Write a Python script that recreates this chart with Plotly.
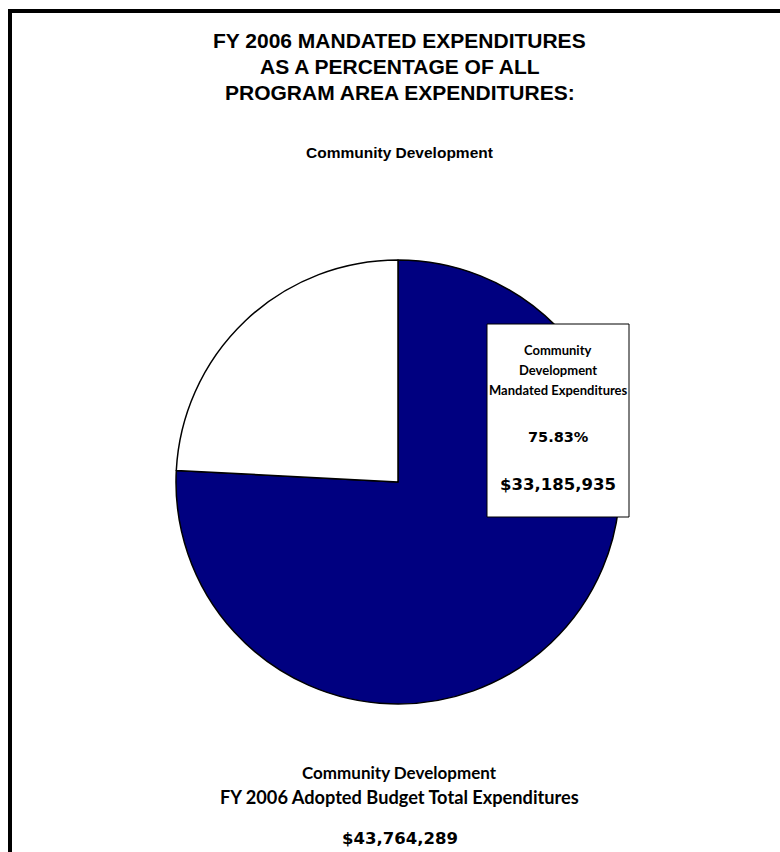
import plotly.graph_objects as go

# Community Development, FY 2006 adopted budget
slice_labels = ["Mandated Expenditures", "Other Expenditures"]
slice_values = [33185935, 43764289 - 33185935]
slice_colors = ["#000080", "#FFFFFF"]

title_lines = ["FY 2006 MANDATED EXPENDITURES", "AS A PERCENTAGE OF ALL", "PROGRAM AREA EXPENDITURES:"]
subtitle = "Community Development"
box_lines = ["Community", "Development", "Mandated Expenditures"]
footer_lines = ["Community Development", "FY 2006 Adopted Budget Total Expenditures"]

W, H = 780, 852
total = sum(slice_values)
pct = slice_values[0] / total * 100


def px(x):
    return x / W


def py(y):
    return 1 - y / H


fig = go.Figure()

# pie: mandated slice starts at 12 o'clock and runs clockwise
fig.add_trace(go.Pie(
    labels=slice_labels,
    values=slice_values,
    sort=False,
    direction="clockwise",
    rotation=0,
    marker=dict(colors=slice_colors, line=dict(color="#000000", width=1.5)),
    textinfo="none",
    hoverinfo="label+value+percent",
    showlegend=False,
    domain=dict(x=[px(176), px(620)], y=[py(704), py(260)]),
))

heading = "Liberation Sans, Arial, sans-serif"
body = "Lato, Noto Sans, sans-serif"
digits = "DejaVu Sans, sans-serif"


def note(text, x, y, family, size):
    return dict(text=f"<b>{text}</b>", x=px(x), y=py(y), xref="paper", yref="paper",
                xanchor="center", yanchor="middle", showarrow=False,
                font=dict(family=family, size=size, color="#000000"))


annotations = []
for i, line in enumerate(title_lines):
    annotations.append(note(line, 400, 41 + 26 * i, heading, 21))
annotations.append(note(subtitle, 400, 152, heading, 15.5))

# label for the mandated slice
for i, line in enumerate(box_lines):
    annotations.append(note(line, 558, 350 + 20 * i, body, 13))
annotations.append(note(f"{pct:.2f}%", 558, 437, digits, 14.5))
annotations.append(note(f"${slice_values[0]:,}", 558, 484, digits, 16.5))

annotations.append(note(footer_lines[0], 400, 772, body, 17))
annotations.append(note(footer_lines[1], 400, 797, body, 18.2))
annotations.append(note(f"${total:,}", 400, 838, digits, 16.5))

shapes = [
    # white box behind the slice label
    dict(type="rect", xref="paper", yref="paper", x0=px(487), x1=px(629), y0=py(517), y1=py(324),
         fillcolor="#FFFFFF", line=dict(color="#000000", width=1), layer="above"),
    # page frame (top and left edges visible)
    dict(type="line", xref="paper", yref="paper", x0=px(8), x1=px(790), y0=py(11), y1=py(11),
         line=dict(color="#000000", width=4)),
    dict(type="line", xref="paper", yref="paper", x0=px(10), x1=px(10), y0=py(9), y1=py(860),
         line=dict(color="#000000", width=4)),
]

fig.update_layout(
    width=W,
    height=H,
    margin=dict(l=0, r=0, t=0, b=0),
    paper_bgcolor="#FFFFFF",
    plot_bgcolor="#FFFFFF",
    annotations=annotations,
    shapes=shapes,
)

# drop the default body margin so the figure fills the window exactly
fig.write_html("out.html", config={"displayModeBar": False},
               post_script="document.body.style.margin='0';"
                           "document.documentElement.style.overflow='hidden';")
